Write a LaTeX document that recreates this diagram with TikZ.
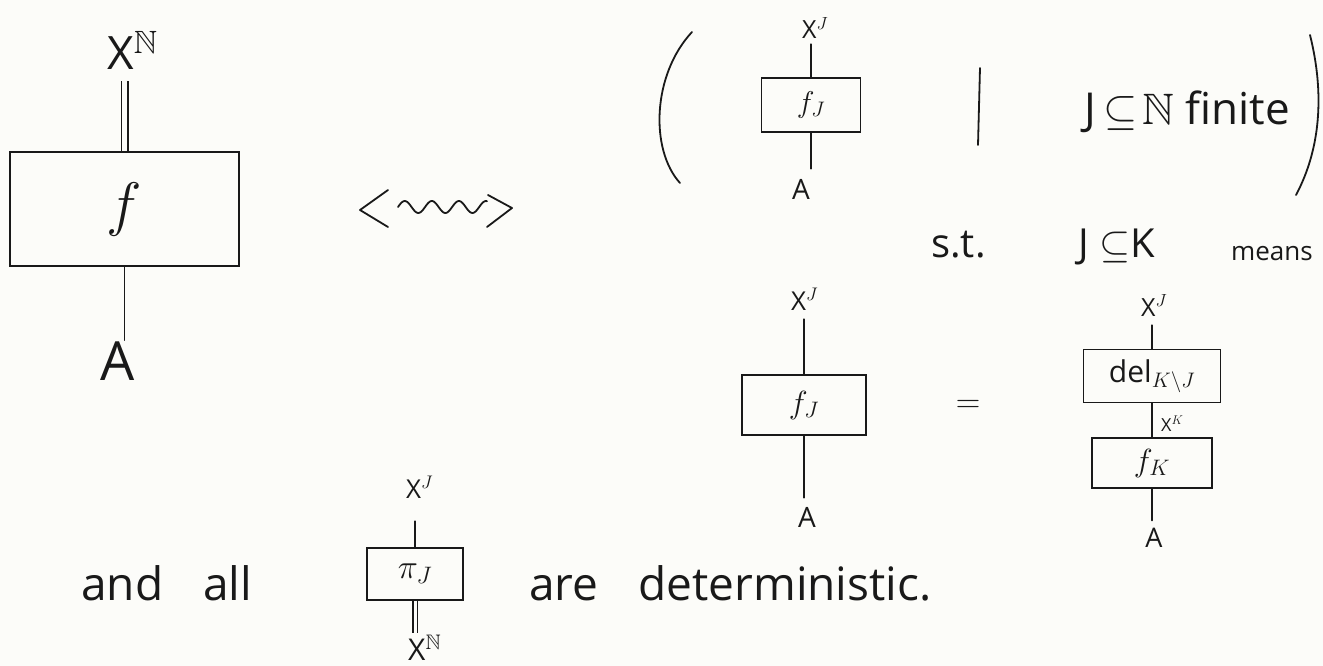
\RequirePackage{fix-cm}
\documentclass[tikz,border=0pt]{standalone}
\usepackage{amsmath,amssymb}
\usepackage{fontspec}
\setmainfont{Open Sans}
\usetikzlibrary{positioning}
\definecolor{Paper}{RGB}{252,252,249}
\definecolor{Ink}{RGB}{25,25,25}
\newcommand{\NN}{\mathbb{N}}
\newcommand{\fs}[1]{\fontsize{#1}{#1}\selectfont}

\begin{document}
\begin{tikzpicture}[x=1pt,y=-1pt,
	ink/.style={draw=Ink,line width=1.8pt,line cap=round,line join=round},
	wire/.style={ink},
	dwire/.style={draw=Ink,line width=1.5pt,double=Paper,double distance=5pt},
	morph/.style={draw=Ink,line width=1.8pt,inner sep=0pt,text=Ink},
	lab/.style={inner sep=1pt,text=Ink}]
\fill[Paper] (0,0) rectangle (1323,666);
\useasboundingbox (0,0) rectangle (1323,666);
% big box f
\node[morph,minimum width=229pt,minimum height=114pt,font=\fs{60}] (F) at (124.5,209) {$f$};
\node[lab,anchor=base west,font=\fs{46}] (XN) at (106,70) {X$^{\NN}$};
\node[lab,anchor=base,font=\fs{54}] (A0) at (118,380) {A};
\draw[dwire,shorten >=10pt] (F.north) -- (F.north |- XN.south);
\draw[wire] (F.south) -- (F.south |- A0.north);
% squiggle
\draw[ink] (388,190) -- (360,210) -- (388,227);
\draw[ink] plot[domain=0:89,samples=80,smooth] ({398+\x},{207-6*sin(13.3*\x)});
\draw[ink] (488,195) -- (512,208) -- (487,227);
% the family in brackets
\draw[ink] (692,32) .. controls (652,75) and (650,150) .. (680,183);
\draw[ink] (1310,35) .. controls (1325,95) and (1320,150) .. (1296,195);
\node[morph,minimum width=99pt,minimum height=54pt,font=\fs{30}] (FJ1) at (811,105) {$f_J$};
\node[lab,anchor=base west,font=\fs{25}] (XJ1) at (801,39) {X$^{J}$};
\node[lab,anchor=base,font=\fs{28}] (A1) at (801,200) {A};
\draw[wire,shorten >=4pt] (FJ1.north) -- (FJ1.north |- XJ1.south);
\draw[wire,shorten >=10pt] (FJ1.south) -- (FJ1.south |- A1.north);
\draw[ink] (980,68) -- (978,145);
\node[lab,anchor=base west,font=\fs{44}] (JN) at (1083,125) {J$\,\subseteq\!\NN$ finite};
% condition
\node[lab,anchor=base west,font=\fs{40}] (ST) at (930,257) {s.t.};
\node[lab,anchor=base west,font=\fs{40}] (JK) at (1077,257) {J $\subseteq$K};
\node[lab,anchor=base west,font=\fs{26}] (MN) at (1230,260) {means};
% left side of the equation
\node[morph,minimum width=124pt,minimum height=60pt,font=\fs{32}] (FJ2) at (804,405) {$f_J$};
\node[lab,anchor=base west,font=\fs{26}] (XJ2) at (790,310) {X$^{J}$};
\node[lab,anchor=base,font=\fs{28}] (A2) at (807,527) {A};
\draw[wire,shorten >=8pt] (FJ2.north) -- (FJ2.north |- XJ2.south);
\draw[wire,shorten >=8pt] (FJ2.south) -- (FJ2.south |- A2.north);
\node[lab,font=\fs{34}] (EQ) at (968,406) {$=$};
% right side of the equation
\node[morph,minimum width=137pt,minimum height=53pt,font=\fs{30}] (DEL) at (1152,376) {del$_{K\setminus J}$};
\node[morph,minimum width=120pt,minimum height=50pt,font=\fs{32}] (FK) at (1152,463) {$f_K$};
\node[lab,anchor=base west,font=\fs{25}] (XJ3) at (1140,316) {X$^{J}$};
\node[lab,anchor=base,font=\fs{27}] (A3) at (1154,547) {A};
\draw[wire,shorten >=8pt] (DEL.north) -- (DEL.north |- XJ3.south);
\draw[wire] (DEL.south) -- (FK.north);
\node[lab,anchor=base west,font=\fs{18}] (XK) at (1160,431) {X$^{K}$};
\draw[wire,shorten >=6pt] (FK.south) -- (FK.south |- A3.north);
% projections
\node[lab,anchor=base west,font=\fs{46}] (AND) at (80,600) {and\hspace{40pt}all};
\node[morph,minimum width=96pt,minimum height=52pt,font=\fs{34}] (PI) at (415,574) {$\pi_J$};
\node[lab,anchor=base west,font=\fs{26}] (XJ4) at (405,498) {X$^{J}$};
\node[lab,anchor=base west,font=\fs{30}] (XN2) at (407,660) {X$^{\NN}$};
\draw[wire,shorten >=22pt] (PI.north) -- (PI.north |- XJ4.south);
\draw[draw=Ink,line width=1.4pt,double=Paper,double distance=3pt] (PI.south) -- (PI.south |- XN2.north);
\node[lab,anchor=base west,font=\fs{46}] (DET) at (528,600) {are\hspace{40pt}deterministic.};
\end{tikzpicture}
\end{document}
